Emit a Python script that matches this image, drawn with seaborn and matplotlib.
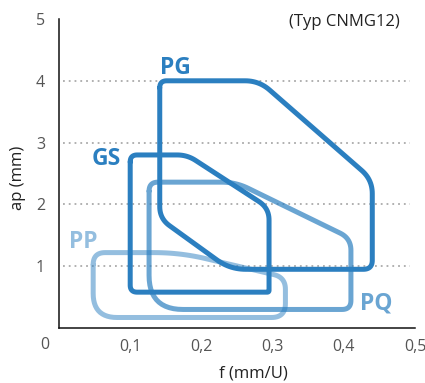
import numpy as np
import pandas as pd
import matplotlib
matplotlib.use("Agg")
import matplotlib.pyplot as plt
import seaborn as sns

# Eckpunkte der Spanbereiche (f in mm/U, ap in mm)
pg_f = [0.1415, 0.281, 0.44, 0.44, 0.24, 0.1415]
pg_ap = [4.0, 4.0, 2.4, 0.95, 0.95, 1.77]
gs_f = [0.10, 0.18, 0.295, 0.295, 0.10]
gs_ap = [2.8, 2.8, 1.94, 0.58, 0.58]
pq_f = [0.1265, 0.248, 0.41, 0.41, 0.1265]
pq_ap = [2.36, 2.36, 1.45, 0.30, 0.30]
pp_f = [0.048, 0.17, 0.318, 0.318, 0.048]
pp_ap = [1.22, 1.22, 0.82, 0.17, 0.17]

x_ticks = [0.1, 0.2, 0.3, 0.4, 0.5]
y_ticks = [1, 2, 3, 4, 5]
grid_levels = [1, 2, 3, 4]

# Eckenradien in Pixel (nur Stil)
pg_r = [7, 14, 14, 9, 16, 12]
gs_r = [7, 10, 12, 2, 7]
pq_r = [9, 14, 12, 9, 34]
pp_r = [12, 26, 12, 14, 24]

blue = "#2b7fc0"

sns.set_style("white")
plt.rcParams["font.family"] = ["Open Sans", "DejaVu Sans"]

W, H = 425, 383
fig = plt.figure(figsize=(W / 100, H / 100), dpi=100)
ax = fig.add_axes([59 / W, 1 - 328 / H, 356 / W, 309 / H])
ax.set_xlim(0, 0.5)
ax.set_ylim(0, 5)


def rounded(fs, aps, radii, n=14):
    pts = ax.transData.transform(np.column_stack([fs, aps]))
    out = []
    k = len(pts)
    for i in range(k):
        v = pts[i]
        p = pts[i - 1]
        q = pts[(i + 1) % k]
        lp = np.linalg.norm(p - v)
        lq = np.linalg.norm(q - v)
        c = min(radii[i], lp / 2, lq / 2)
        a = v + (p - v) / lp * c
        b = v + (q - v) / lq * c
        for t in np.linspace(0, 1, n):
            out.append((1 - t) ** 2 * a + 2 * (1 - t) * t * v + t ** 2 * b)
    out.append(out[0])
    out = ax.transData.inverted().transform(np.array(out))
    return pd.DataFrame({"f": out[:, 0], "ap": out[:, 1]})


for y in grid_levels:
    ax.axhline(y, xmin=0.01, xmax=0.985, color="#aaaaaa", lw=1.3,
               ls=(0, (1, 2.2)), zorder=0)

shapes = [
    (pp_f, pp_ap, pp_r, 0.5),
    (pq_f, pq_ap, pq_r, 0.7),
    (gs_f, gs_ap, gs_r, 1.0),
    (pg_f, pg_ap, pg_r, 1.0),
]
for fs, aps, rr, al in shapes:
    df = rounded(fs, aps, rr)
    sns.lineplot(data=df, x="f", y="ap", sort=False, estimator=None,
                 color=blue, alpha=al, lw=3.6, ax=ax,
                 solid_joinstyle="round", solid_capstyle="round")

lab_kw = dict(fontsize=16.5, fontweight="bold", ha="center", va="center")
ax.text(0.164, 4.2, "PG", color=blue, **lab_kw)
ax.text(0.067, 2.74, "GS", color=blue, **lab_kw)
ax.text(0.034, 1.39, "PP", color=blue, alpha=0.5, **lab_kw)
ax.text(0.445, 0.40, "PQ", color=blue, alpha=0.7, **lab_kw)

ax.text(0.478, 4.95, "(Typ CNMG12)", ha="right", va="center",
        fontsize=12, color="#222222")

ax.set_xticks(x_ticks)
ax.set_xticklabels([f"{v:.1f}".replace(".", ",") for v in x_ticks])
ax.set_yticks(y_ticks)
ax.set_yticklabels([str(v) for v in y_ticks])
ax.tick_params(length=0, labelsize=11.5, labelcolor="#555555")
ax.tick_params(axis="x", pad=8)
ax.tick_params(axis="y", pad=10)
ax.set_xlabel("")
ax.set_ylabel("")

fig.text(45 / W, 1 - 345 / H, "0", ha="center", va="center",
         fontsize=11.5, color="#555555")
fig.text(253 / W, 1 - 374 / H, "f (mm/U)", ha="center", va="center",
         fontsize=12, color="#222222")
fig.text(18 / W, 1 - 178 / H, "ap (mm)", ha="center", va="center",
         rotation=90, fontsize=12, color="#222222")

for s in ["top", "right"]:
    ax.spines[s].set_visible(False)
for s in ["left", "bottom"]:
    ax.spines[s].set_color("#111111")
    ax.spines[s].set_linewidth(1.1)

fig.savefig("out.png", dpi=100)
